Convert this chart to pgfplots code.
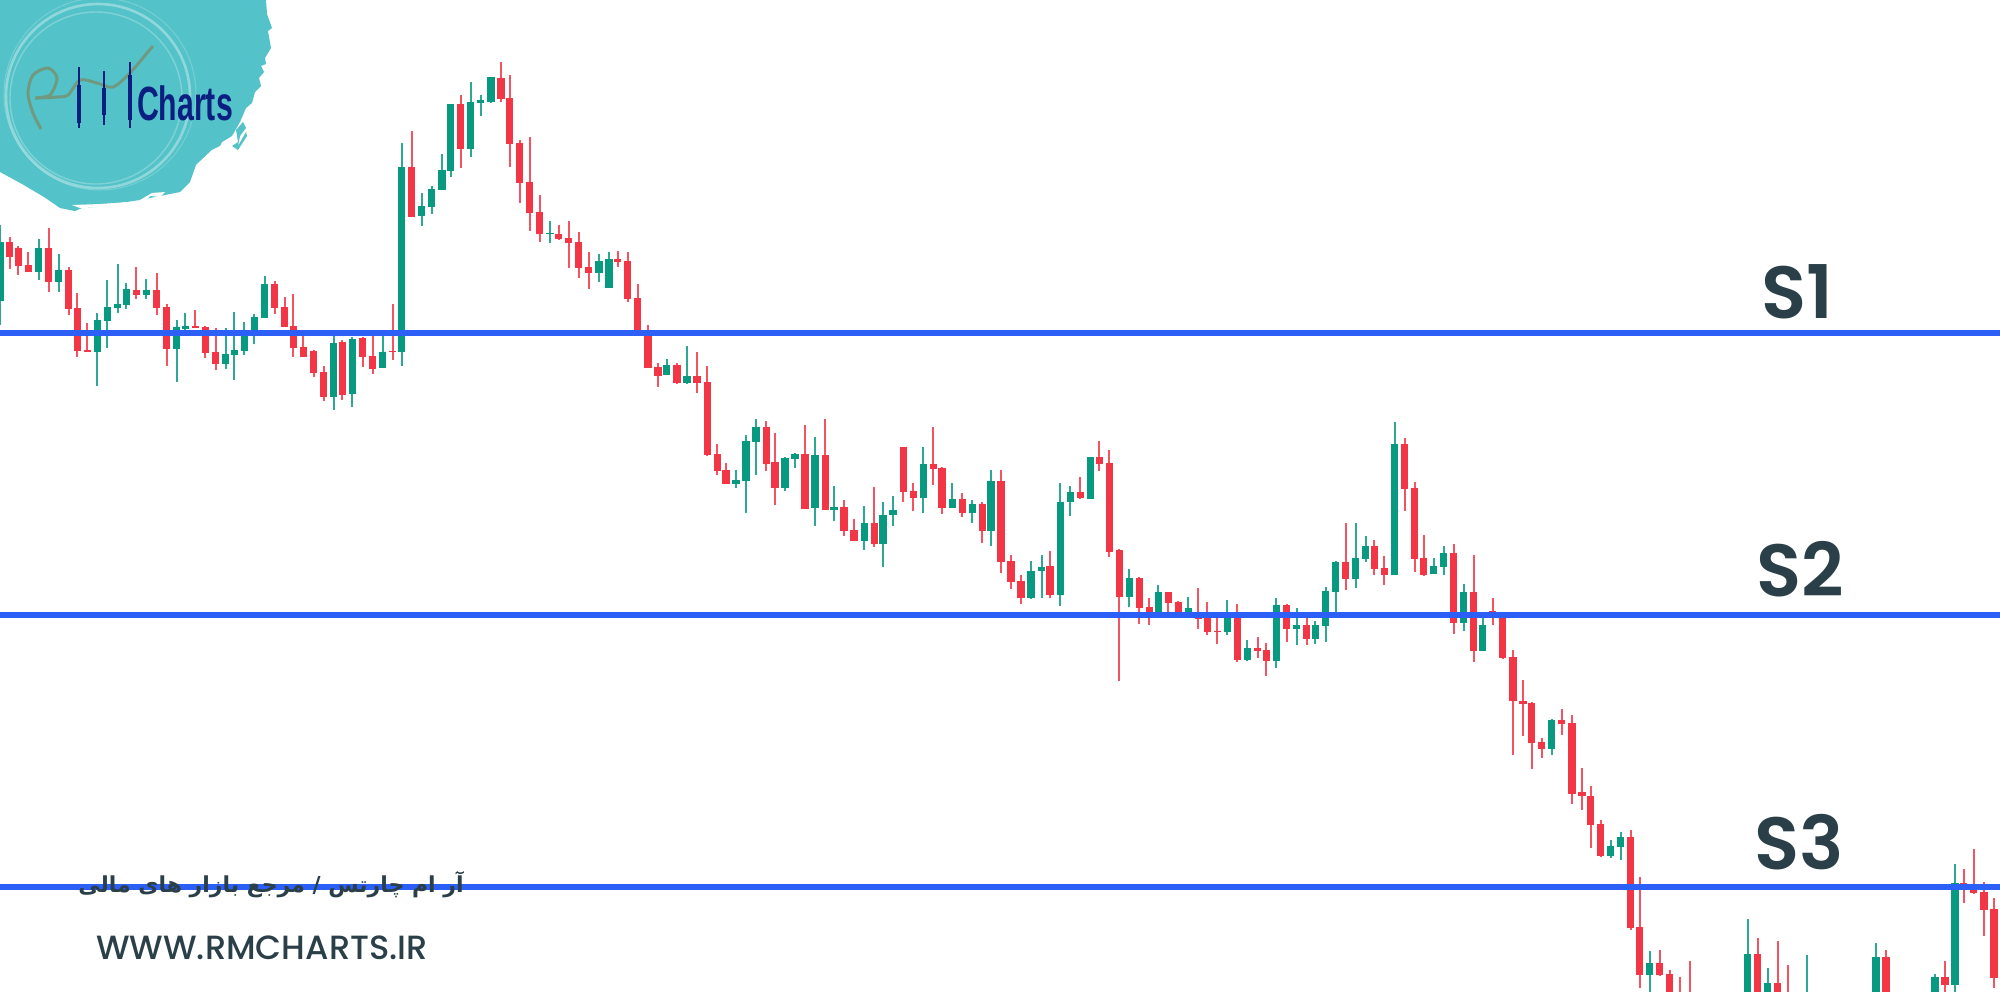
\documentclass[border=0pt]{standalone}
\usepackage{pgfplots}
\usepackage{pgfplotstable}
\usepackage{fontspec}
\pgfplotsset{compat=1.18}
\TeXXeTstate=1
\setmainfont{Poppins}
\newfontfamily\popsb{Poppins SemiBold}
\newfontfamily\popm{Poppins Medium}
\newfontfamily\arabicfont[Script=Arabic]{DejaVu Sans}
\newfontfamily\logofont{Liberation Sans}
\definecolor{cred}{HTML}{F23645}
\definecolor{cgreen}{HTML}{089981}
\definecolor{cblue}{HTML}{2B5FF5}
\definecolor{ctext}{HTML}{2A3F47}
\definecolor{cteal}{HTML}{54C3C9}
\definecolor{cnavy}{HTML}{0B1F80}
\definecolor{csq}{HTML}{6F9A80}
\pgfplotstableread{
x hi top bot lo
9.7 236.7 242.3 257.3 268.7
18.3 246 247.7 265.7 274.7
28.3 252.3 265.3 271.7 271.7
48.7 228.3 247.7 282.3 292
68.7 266.7 269.7 309.3 315.3
77.3 292.7 308.3 351 357
87.3 322.7 350.3 352.3 352.3
136.3 266.7 289.7 295.3 299
156.7 272.7 289.7 307.7 315.3
166.7 304 306.7 349.3 365.7
195.3 310 326 328 328
205.3 326 327.3 352.7 358.3
215.7 328.3 351.7 364.3 370
274.7 281 283.7 308 313.7
284.7 297.3 306.7 327.3 327.3
293.3 294.3 326 348.3 356.7
303.3 335 347.3 357 357
313.7 350 351.3 373 376.7
323.7 366 371.7 397.3 401
342.3 340 341.7 394.7 400
362.7 336.7 338.3 357 366.7
372.7 335 355.7 368.7 374
392.7 304 351.3 352.3 360
411.7 131.3 167 216.7 217.3
460.7 95 103.7 149.3 168.3
501 62.3 77.7 99.3 102
509.7 75 98 144 166.7
519.7 140 142.7 182.7 202.7
529.7 137 181.7 213 231.3
539.7 194.7 212 234.3 241.7
558.7 224.7 233.7 239 240
568.7 220.7 238 243 267.7
578.7 232.3 242 268 277.7
588.7 252.3 266.7 273.3 289
617.7 250.7 259.3 262 266.7
627.7 252.3 260.7 299.3 302
637.7 284 298.3 330.7 330.7
648 325 330.7 368.3 368.3
658 363.3 367.3 375.7 387.3
677 362.7 364.7 383.3 384
697 351.7 376 383 392.7
707.3 366 381.7 455 456
717.3 444 454 471 475
726 462.7 469.7 483.7 483.7
766.3 421 426.7 463.7 471
775 432.7 462.3 487.7 505.3
805 425 454 508.7 509.3
825.3 419.3 455.3 509.7 509.7
844 500 507.3 531.3 535.7
854 519 530.3 541.3 541.3
874.3 487.3 523 544 547.3
903.3 446.7 446.7 492.3 502.3
913.3 482.7 491.3 498 511.3
933.3 426.7 464 469 485.3
942 466.7 468 508.3 514
962.3 493 498.7 512.7 517
982.3 502 504.3 531.3 543.3
1001 470 481.3 561.7 573.3
1011 554.7 560.7 581.7 589
1021 575.3 580.7 597.7 603.7
1050 550.7 566.3 595 597.7
1080.3 476.7 491.7 498.3 499.3
1099.3 441 456.7 463.7 471
1109.3 450 462.7 551.7 557.3
1119.3 549.3 550.3 597.3 681
1139.3 576.7 577.7 608 623.7
1149.3 598.3 606.7 613.3 625.3
1168.3 592.3 592.3 603.3 613.3
1178.3 601 602.3 613.3 613.3
1198.3 588 615 619 629.3
1207.3 602.3 615 632.3 635
1217.3 618.3 630.7 632 643.7
1237.3 604 615 659.7 662.3
1257.7 637.3 648.3 650.7 658.3
1266.3 642.7 650 661 675.7
1286.7 604 605.3 629 642.3
1306.7 618.3 625.3 639.3 645.3
1345.7 523 562 579 590.3
1374.3 540.3 546 569 574.7
1384.3 556.3 567.7 574.7 585
1404.7 438 443.7 489.3 511.3
1414.7 481.7 488.3 558.7 571.7
1423.7 534.7 557.7 575 575.7
1453.7 544.3 553.3 623.3 633.7
1473.7 554.7 592.3 650.7 662.3
1492.7 598.3 611.3 614.7 625
1502.7 614.7 614.7 658.3 659.3
1513 650 657 701.3 755
1523 680.3 700.7 704 736
1531.7 702.3 703 743 769.3
1541.7 737.7 742 749 758
1561.7 709 720.3 724.3 734.7
1572 715 723.3 793.7 804
1582 768.3 792.3 796.3 809.7
1590.7 785.7 795.7 825.3 848.3
1600.7 820 824.3 855.7 857
1630.7 830 837.3 927.7 930.3
1639.7 876.7 926.7 975.3 988
1659.7 950 962.7 975.3 976.3
1669.7 970 974 992.3 992.3
1679.7 977.3 992.3 992.3 992.3
1690 961.3 992.3 992.3 992.3
1757.7 938 953.7 992.3 992.3
1777.7 941 982.7 992.3 992.3
1788 965.3 992.3 992.3 992.3
1886 949.7 956.7 992.3 992.3
1945 961 977 985 992.3
1963.7 869 883.3 886 903
1973.7 848.7 887.3 893 894.3
1984 882 892 910.3 936.3
1994 897.7 909 978.3 988.3
}\redt
\pgfplotstableread{
x hi top bot lo
0 225 242.3 300.7 325
38.7 239.3 247.7 271.7 280.3
58.7 254 269.7 282.3 292
97.3 313.3 320 352.3 385.7
107.3 280 307.3 320.7 348.3
117.7 264 304 308 313.3
126.3 282.7 289.3 305.3 309.3
146.3 279.3 289.7 295 299
176.7 320 327.3 349.3 381.7
185.3 312.7 326 328.7 330
225.7 328.3 354.3 364.3 369.3
234.3 311.7 350.3 355.3 380
244.3 321.7 334.7 351.3 355.3
254.3 314 317 336 344
264.7 275.7 284 318 318
333.7 335 343 397.3 410
352.3 337.3 338.7 394.3 407.3
382.7 335 351.7 368.3 368.3
401.7 142.7 167 352.3 365.7
421.7 193.3 206 216 225.7
431.7 186 188.7 207 214
442 154.3 170.3 190 190
450.7 103.7 103.7 171.3 176.7
470.7 82.3 102.3 149.3 156.7
480.7 95 100.3 103 116.3
491 77.3 77.3 102 103
550 220.7 233 234.3 242.7
599 254 260.7 273.3 281.7
609 252.3 259.3 288 288
666.7 359 364.7 375.3 375.3
687 346 376 383 384.3
736 470 480 483.7 487.7
746 435.3 441 480.7 512.7
756 419.3 426.7 442 475.3
785 456.7 458.3 488 491
795 452.7 454 459 468
815 436.7 455.3 508.3 525.7
834 485.7 507.3 509.7 521.3
864.3 506 523.3 541.3 550.3
883 501.7 514.7 544 567.3
893 496 510.3 515.3 525.7
923.3 446.7 464 498 512.7
952.3 482.7 498.7 508.3 508.3
972.3 500.3 504.3 512.7 522.7
991 470 481.3 531.3 545.7
1031 560.7 570.7 597.7 598.7
1041.7 554.7 566.7 571.3 597.7
1060.3 482.7 501.7 594.7 606.3
1070.3 485.7 491.7 502.3 515.7
1090.3 456.7 456.7 498.7 499.3
1129.3 569.3 577.7 597.3 606.7
1158.3 585.3 592.3 613.3 613.3
1188.3 596.7 608.3 615 615
1227.3 599.7 615 632.3 635
1247.3 640 648.3 660 661
1276.3 598 605.3 661 668.3
1296.7 608.3 625.3 629.3 645.3
1315.3 621.3 625.3 639.3 643.7
1325.7 586.7 590.7 626.3 642.3
1335.7 560.7 562 592 613.3
1355.7 523 557.7 579 587.7
1365.7 536 546 558.7 561.7
1394.7 422.3 443.7 574.7 574.7
1433.7 558 566.3 574.3 574.3
1443.7 546.3 553.3 567.3 574.7
1463.7 584 592.3 623.3 630.7
1482.7 617.3 625.3 650.7 650.7
1551.7 719 720.3 749 754.7
1610.7 840.3 846 855.7 858.3
1620.7 831.7 837.3 846.7 860
1649.7 951.3 962.7 975 992.3
1747.7 919.3 953.7 992.3 992.3
1767.7 968.3 982.7 992.3 992.3
1806.7 955 992.3 992.3 992.3
1876 942.7 956.7 992.3 992.3
1935 974 976.7 992.3 992.3
1955 864.3 883.3 985 992.3
}\greent
\newcommand{\candles}[2]{%
\addplot[draw=none,mark=none,forget plot,error bars/.cd,y dir=both,y explicit,error mark=none,
  error bar style={draw=#2,line width=.85pt,opacity=.85}]
  table[x=x,y=top,y error plus expr=\thisrow{lo}-\thisrow{top},y error minus expr=\thisrow{top}-\thisrow{hi}]{#1};
\addplot[draw=none,mark=none,forget plot,error bars/.cd,y dir=plus,y explicit,error mark=none,
  error bar style={draw=#2,line width=3.7pt}]
  table[x=x,y=top,y error plus expr=\thisrow{bot}-\thisrow{top}]{#1};
}
\begin{document}
\begin{tikzpicture}
\begin{axis}[scale only axis,width=1000pt,height=500pt,hide axis,
  xmin=0,xmax=2000,ymin=0,ymax=1000,y dir=reverse,clip=true]
% logo blob
\addplot[fill=cteal,draw=none,forget plot] coordinates {
(0,0)(266,0)(267,14)(272,28)(268,31)(271,48)(265,58)(266,64)(261,66)(264,72)(259,78)(261,86)(255,92)(252,103)(246,108)
(240,122)(232,136)(222,142)(216,154)(207,159)(196,165)
(190,182)(180,192)(160,196)(140,200)(120,203)(112,206)(82,208)(75,211)(60,208)(44,197)(22,184)(0,172)(0,0)};
\addplot[fill=white,draw=none,forget plot] coordinates {(196,165)(212,150)(226,143)(218,156)(205,160)(208,163)};
\addplot[fill=white,draw=none,forget plot] coordinates {(140,200)(152,193)(165,192)(160,197)(150,196)(146,201)};
\addplot[fill=white,draw=none,forget plot] coordinates {(72,205)(100,204)(128,202)(110,207)(80,208)};
\addplot[fill=cteal,draw=none,forget plot] coordinates {(232,146)(238,142)(236,130)(243,122)(246,128)(240,136)(238,146)(246,132)(247,136)(238,150)};
\draw[white,opacity=.35,line width=1.3pt] (axis cs:98,96) circle[radius=92];
\draw[white,opacity=.25,line width=.7pt] (axis cs:96,98) circle[radius=86];
\draw[white,opacity=.2,line width=.5pt] (axis cs:100,94) circle[radius=96];
\addplot[csq,line width=1.5pt,smooth,forget plot] coordinates {
(41,129)(33,113)(28,93)(33,75)(48,68)(57,78)(50,95)(35,98)(57,97)(68,95)(80,80)(97,83)(113,87)(130,73)(147,53)(153,46)};
\addplot[cnavy,line width=.9pt,forget plot] coordinates {(79,67)(79,128)};
\addplot[cnavy,line width=.9pt,forget plot] coordinates {(104,71)(104,125)};
\addplot[cnavy,line width=.9pt,forget plot] coordinates {(130,62)(130,128)};
\addplot[cnavy,line width=2.2pt,forget plot] coordinates {(79,85)(79,123)};
\addplot[cnavy,line width=2.2pt,forget plot] coordinates {(104,88)(104,115)};
\addplot[cnavy,line width=2.2pt,forget plot] coordinates {(130,75)(130,120)};
\node[anchor=center,text=cnavy,font=\logofont\bfseries\fontsize{24}{24}\selectfont,xscale=.63,inner sep=0pt] at (axis cs:185,103) {Charts};
% candles
\candles{\redt}{cred}
\candles{\greent}{cgreen}
% levels
\addplot[cblue,line width=2.8pt,forget plot] coordinates {(0,333)(2000,333)};
\addplot[cblue,line width=2.8pt,forget plot] coordinates {(0,615)(2000,615)};
\addplot[cblue,line width=2.8pt,forget plot] coordinates {(0,887)(2000,887)};
% text
\node[text=ctext,font=\popsb\fontsize{37}{37}\selectfont,inner sep=0pt] at (axis cs:1797,292) {S1};
\node[text=ctext,font=\popsb\fontsize{37}{37}\selectfont,inner sep=0pt] at (axis cs:1800,569) {S2};
\node[text=ctext,font=\popsb\fontsize{37}{37}\selectfont,inner sep=0pt] at (axis cs:1799,842) {S3};
\node[text=ctext,font=\arabicfont\bfseries\fontsize{11}{12}\selectfont,inner sep=0pt] at (axis cs:271,885) {\beginR آر ام چارتس / مرجع بازار های مالی\endR};
\node[text=ctext,font=\popm\fontsize{16.8}{17}\selectfont,inner sep=0pt] at (axis cs:262,948) {WWW.RMCHARTS.IR};
\end{axis}
\end{tikzpicture}
\end{document}
